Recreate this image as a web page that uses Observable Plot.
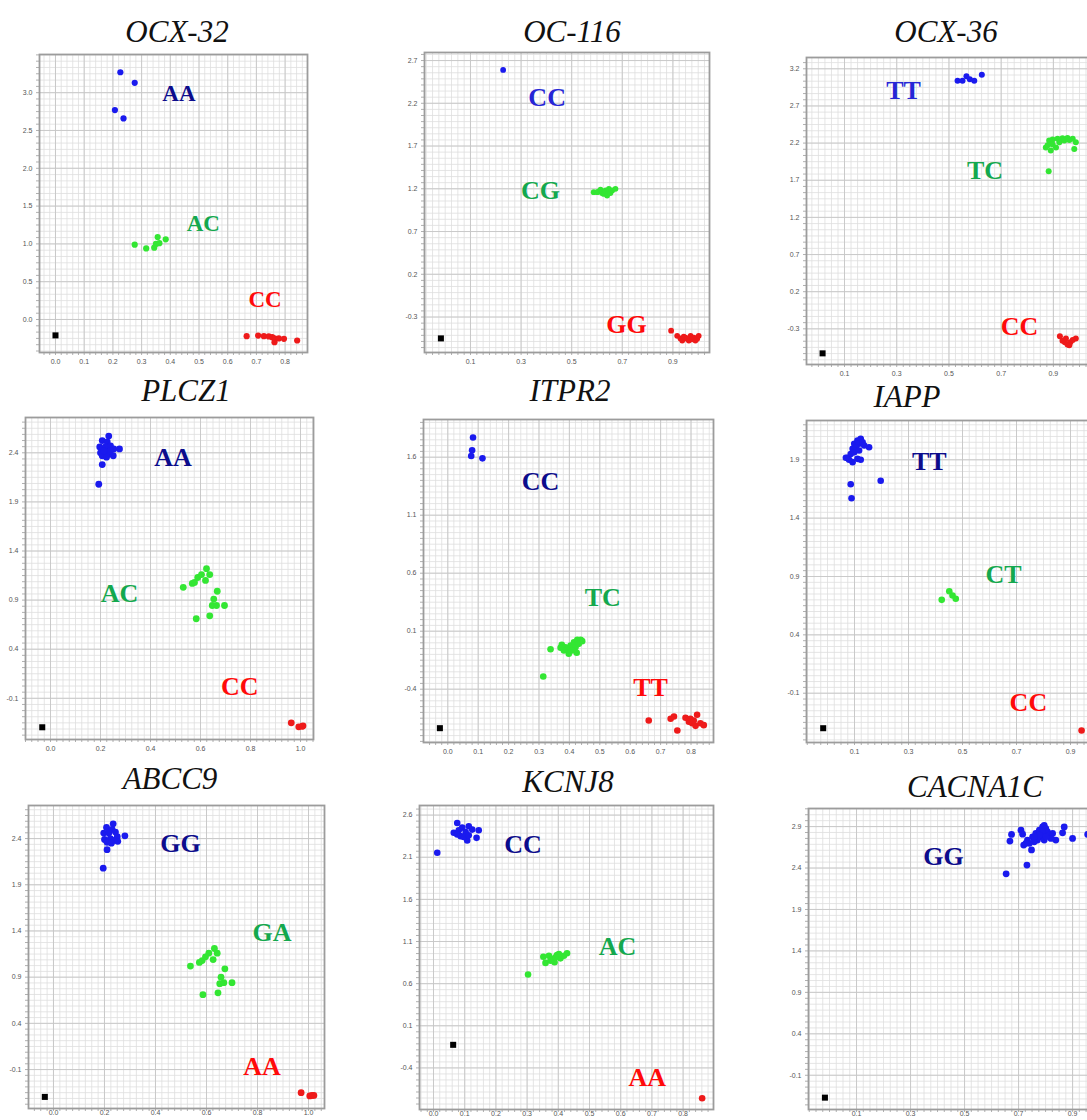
<!DOCTYPE html>
<html><head><meta charset="utf-8">
<script src="https://cdn.jsdelivr.net/npm/d3@7"></script>
<script src="https://cdn.jsdelivr.net/npm/@observablehq/plot@0.6"></script>
<style>
html,body{margin:0;padding:0;background:#fff;}
body{width:1087px;height:1120px;overflow:hidden;position:relative;}
.panel{position:absolute;}
.panel svg{max-width:none !important;}
#titles{position:absolute;left:0;top:0;pointer-events:none;}
</style></head><body>
<svg id="titles" width="1087" height="1120"></svg>
<script>
// ---------- DATA ----------
const titles = ["OCX-32","OC-116","OCX-36","PLCZ1","ITPR2","IAPP","ABCC9","KCNJ8","CACNA1C"];
const genotypes = [["AA","AC","CC"],["CC","CG","GG"],["TT","TC","CC"],["AA","AC","CC"],["CC","TC","TT"],["TT","CT","CC"],["GG","GA","AA"],["CC","AC","AA"],["GG"]];

// OCX-32
const OCX32_xTicks = [0,0.1,0.2,0.3,0.4,0.5,0.6,0.7,0.8];
const OCX32_yTicks = [0,0.5,1.0,1.5,2.0,2.5,3.0];
const OCX32_g1 = [[0.226,3.27],[0.276,3.13],[0.207,2.77],[0.237,2.66]];
const OCX32_g2 = [[0.276,0.99],[0.316,0.94],[0.344,0.95],[0.35,1.0],[0.356,1.09],[0.362,1.01],[0.384,1.06]];
const OCX32_g3 = [[0.666,-0.22],[0.706,-0.212],[0.726,-0.22],[0.743,-0.224],[0.755,-0.234],[0.763,-0.25],[0.763,-0.30],[0.778,-0.25],[0.796,-0.256],[0.842,-0.278]];
const OCX32_ntc = [[0.0,-0.21]];

// OC-116
const OC116_xTicks = [0.1,0.3,0.5,0.7,0.9];
const OC116_yTicks = [-0.3,0.2,0.7,1.2,1.7,2.2,2.7];
const OC116_g1 = [[0.229,2.59]];
const OC116_g2 = [[0.587,1.16],[0.601,1.16],[0.607,1.17],[0.614,1.19],[0.620,1.15],[0.627,1.14],[0.63,1.16],[0.634,1.18],[0.640,1.12],[0.645,1.17],[0.647,1.20],[0.653,1.15],[0.660,1.18],[0.673,1.20]];
const OC116_g3 = [[0.893,-0.46],[0.917,-0.52],[0.930,-0.55],[0.937,-0.575],[0.943,-0.53],[0.95,-0.54],[0.956,-0.555],[0.963,-0.575],[0.970,-0.52],[0.975,-0.56],[0.983,-0.54],[0.989,-0.575],[0.996,-0.555],[1.002,-0.52]];
const OC116_ntc = [[-0.017,-0.55]];

// OCX-36
const OCX36_xTicks = [0.1,0.3,0.5,0.7,0.9];
const OCX36_yTicks = [-0.3,0.2,0.7,1.2,1.7,2.2,2.7,3.2];
const OCX36_g1 = [[0.533,3.04],[0.552,3.04],[0.567,3.10],[0.580,3.06],[0.597,3.04],[0.626,3.12]];
const OCX36_g2 = [[0.871,2.14],[0.890,2.10],[0.910,2.14],[0.884,2.235],[0.897,2.25],[0.916,2.26],[0.935,2.266],[0.954,2.27],[0.974,2.26],[0.986,2.21],[0.980,2.12],[0.923,2.21],[0.942,2.235],[0.961,2.24],[0.897,2.18],[0.878,2.17],[0.882,1.82]];
const OCX36_g3 = [[0.925,-0.40],[0.935,-0.46],[0.944,-0.48],[0.954,-0.51],[0.965,-0.48],[0.974,-0.45],[0.986,-0.43],[0.948,-0.43],[0.961,-0.52]];
const OCX36_ntc = [[0.016,-0.63]];

// PLCZ1
const PLCZ1_xTicks = [0,0.2,0.4,0.6,0.8,1.0];
const PLCZ1_yTicks = [-0.1,0.4,0.9,1.4,1.9,2.4];
const PLCZ1_g1 = [[0.233,2.57],[0.207,2.525],[0.227,2.51],[0.197,2.46],[0.22,2.46],[0.24,2.47],[0.253,2.44],[0.276,2.44],[0.2,2.40],[0.22,2.41],[0.233,2.39],[0.251,2.37],[0.207,2.37],[0.224,2.355],[0.207,2.28],[0.193,2.08],[0.213,2.42],[0.24,2.42]];
const PLCZ1_g2 = [[0.531,1.03],[0.567,1.07],[0.576,1.08],[0.589,1.13],[0.604,1.16],[0.624,1.22],[0.637,1.16],[0.62,1.10],[0.667,0.99],[0.653,0.91],[0.647,0.845],[0.664,0.845],[0.696,0.845],[0.637,0.74],[0.583,0.71]];
const PLCZ1_g3 = [[0.963,-0.35],[0.993,-0.39],[1.007,-0.385],[1.01,-0.38]];
const PLCZ1_ntc = [[-0.033,-0.395]];

// ITPR2
const ITPR2_xTicks = [0,0.1,0.2,0.3,0.4,0.5,0.6,0.7,0.8];
const ITPR2_yTicks = [-0.4,0.1,0.6,1.1,1.6];
const ITPR2_g1 = [[0.083,1.77],[0.080,1.66],[0.077,1.61],[0.114,1.59]];
const ITPR2_g2 = [[0.338,-0.055],[0.314,-0.29],[0.375,-0.017],[0.387,-0.038],[0.398,-0.052],[0.404,-0.023],[0.415,0.005],[0.426,0.026],[0.437,0.026],[0.442,0.014],[0.420,-0.038],[0.398,-0.095],[0.424,-0.086],[0.409,-0.067],[0.382,-0.067],[0.371,-0.043],[0.431,-0.009]];
const ITPR2_g3 = [[0.661,-0.67],[0.733,-0.655],[0.744,-0.635],[0.755,-0.756],[0.782,-0.646],[0.798,-0.655],[0.820,-0.62],[0.804,-0.694],[0.815,-0.716],[0.831,-0.694],[0.842,-0.71],[0.793,-0.68],[0.809,-0.67]];
const ITPR2_ntc = [[-0.026,-0.736]];

// IAPP
const IAPP_xTicks = [0.1,0.3,0.5,0.7,0.9];
const IAPP_yTicks = [-0.1,0.4,0.9,1.4,1.9];
const IAPP_g1 = [[0.074,1.917],[0.086,1.95],[0.093,1.994],[0.099,2.037],[0.111,2.065],[0.123,2.08],[0.117,2.037],[0.130,2.05],[0.105,2.008],[0.136,2.023],[0.154,2.008],[0.093,1.88],[0.111,1.908],[0.123,1.90],[0.080,1.90],[0.099,1.965],[0.117,1.98],[0.068,1.917],[0.197,1.72],[0.086,1.69],[0.089,1.57]];
const IAPP_g2 = [[0.423,0.70],[0.451,0.774],[0.463,0.737],[0.475,0.709]];
const IAPP_g3 = [[0.941,-0.42]];
const IAPP_ntc = [[-0.016,-0.40]];

// ABCC9
const ABCC9_xTicks = [0,0.2,0.4,0.6,0.8,1.0];
const ABCC9_yTicks = [-0.1,0.4,0.9,1.4,1.9,2.4];
const ABCC9_g1 = [[0.234,2.56],[0.208,2.52],[0.23,2.50],[0.197,2.46],[0.217,2.46],[0.243,2.47],[0.25,2.42],[0.28,2.43],[0.2,2.39],[0.223,2.40],[0.237,2.38],[0.252,2.37],[0.21,2.36],[0.227,2.35],[0.21,2.28],[0.195,2.08]];
const ABCC9_g2 = [[0.537,1.02],[0.572,1.06],[0.583,1.08],[0.596,1.12],[0.609,1.16],[0.631,1.21],[0.642,1.16],[0.626,1.09],[0.672,0.99],[0.657,0.90],[0.652,0.83],[0.668,0.84],[0.7,0.84],[0.645,0.73],[0.586,0.71]];
const ABCC9_g3 = [[0.971,-0.35],[1.005,-0.385],[1.014,-0.38],[1.021,-0.38]];
const ABCC9_ntc = [[-0.034,-0.396]];

// KCNJ8
const KCNJ8_xTicks = [0,0.1,0.2,0.3,0.4,0.5,0.6,0.7,0.8];
const KCNJ8_yTicks = [-0.4,0.1,0.6,1.1,1.6,2.1,2.6];
const KCNJ8_g1 = [[0.012,2.153],[0.076,2.506],[0.065,2.39],[0.081,2.42],[0.092,2.452],[0.103,2.40],[0.113,2.467],[0.124,2.428],[0.145,2.42],[0.138,2.33],[0.087,2.35],[0.108,2.30],[0.097,2.34],[0.076,2.37],[0.113,2.36]];
const KCNJ8_g2 = [[0.303,0.708],[0.352,0.92],[0.359,0.846],[0.370,0.931],[0.380,0.893],[0.388,0.854],[0.396,0.94],[0.407,0.90],[0.418,0.931],[0.428,0.96],[0.375,0.873],[0.402,0.951],[0.391,0.912]];
const KCNJ8_g3 = [[0.861,-0.76]];
const KCNJ8_ntc = [[0.063,-0.126]];

// CACNA1C
const CACNA1C_xTicks = [0.1,0.3,0.5,0.7,0.9];
const CACNA1C_yTicks = [-0.1,0.4,0.9,1.4,1.9,2.4,2.9];
const CACNA1C_g1 = [[0.654,2.33],[0.731,2.436],[0.668,2.725],[0.674,2.805],[0.709,2.856],[0.715,2.808],[0.719,2.677],[0.733,2.737],[0.748,2.618],[0.752,2.776],[0.764,2.817],[0.777,2.856],[0.789,2.895],[0.795,2.915],[0.801,2.876],[0.807,2.836],[0.783,2.776],[0.770,2.737],[0.758,2.717],[0.814,2.796],[0.826,2.817],[0.838,2.737],[0.863,2.824],[0.869,2.895],[0.900,2.757],[0.956,2.805],[0.740,2.698],[0.795,2.737],[0.820,2.757],[0.789,2.836],[0.801,2.776],[0.777,2.796],[0.758,2.776],[0.727,2.698]];
const CACNA1C_ntc = [[-0.017,-0.37]];

// ---------- LAYOUT / STYLE ----------
const NAVY = "#0c0c8c", BRIGHT = "#2626d6", LGREEN = "#14a84e", LRED = "#ff0a0a";
const DOT = ["#1a1aee", "#33e633", "#ee1a1a"];
const panels = [
  {frame:[39,54,307,352], xdom:[-0.0557,0.878], ydom:[-0.4365,3.505], gx:0.02, gy:0.5/6, xt:OCX32_xTicks, yt:OCX32_yTicks, groups:[OCX32_g1,OCX32_g2,OCX32_g3], ntc:OCX32_ntc,
   lab:[[0.43,2.99],[0.515,1.27],[0.73,0.26]], labColor:[NAVY,LGREEN,LRED], labSize:23, title:[177,42], r:3.1, pad:7},
  {frame:[424,52,709,352], xdom:[-0.0818,1.0447], ydom:[-0.715,2.794], gx:0.025, gy:0.5/7, xt:OC116_xTicks, yt:OC116_yTicks, groups:[OC116_g1,OC116_g2,OC116_g3], ntc:OC116_ntc,
   lab:[[0.403,2.27],[0.377,1.18],[0.717,-0.39]], labColor:[BRIGHT,LGREEN,LRED], labSize:26, title:[572,42], r:2.9, pad:7},
  {frame:[806,57,1097,364], xdom:[-0.0456,1.069], ydom:[-0.780,3.352], gx:0.025, gy:0.5/6, xt:OCX36_xTicks, yt:OCX36_yTicks, groups:[OCX36_g1,OCX36_g2,OCX36_g3], ntc:OCX36_ntc,
   lab:[[0.326,2.91],[0.638,1.83],[0.77,-0.27]], labColor:[BRIGHT,LGREEN,LRED], labSize:26, title:[946,42], r:3, pad:7},
  {frame:[25,417,313,739], xdom:[-0.1,1.052], ydom:[-0.5195,2.7595], gx:0.025, gy:0.0625, xt:PLCZ1_xTicks, yt:PLCZ1_yTicks, groups:[PLCZ1_g1,PLCZ1_g2,PLCZ1_g3], ntc:PLCZ1_ntc,
   lab:[[0.49,2.35],[0.276,0.97],[0.757,0.02]], labColor:[NAVY,LGREEN,LRED], labSize:26, title:[186,401], r:3.4, pad:7},
  {frame:[423,419,713,742], xdom:[-0.0799,0.874], ydom:[-0.8595,1.925], gx:0.02, gy:0.05, xt:ITPR2_xTicks, yt:ITPR2_yTicks, groups:[ITPR2_g1,ITPR2_g2,ITPR2_g3], ntc:ITPR2_ntc,
   lab:[[0.305,1.385],[0.51,0.388],[0.667,-0.39]], labColor:[NAVY,LGREEN,LRED], labSize:26, title:[570,401], r:3.3, pad:7},
  {frame:[806,420,1097,742], xdom:[-0.0778,1.0], ydom:[-0.5224,2.2368], gx:0.025, gy:0.05, xt:IAPP_xTicks, yt:IAPP_yTicks, groups:[IAPP_g1,IAPP_g2,IAPP_g3], ntc:IAPP_ntc,
   lab:[[0.377,1.885],[0.652,0.917],[0.744,-0.177]], labColor:[NAVY,LGREEN,LRED], labSize:26, title:[907,407], r:3.3, pad:7},
  {frame:[28,805,324,1108], xdom:[-0.098,1.0627], ydom:[-0.5215,2.758], gx:0.025, gy:0.0625, xt:ABCC9_xTicks, yt:ABCC9_yTicks, groups:[ABCC9_g1,ABCC9_g2,ABCC9_g3], ntc:ABCC9_ntc,
   lab:[[0.498,2.34],[0.857,1.38],[0.818,-0.07]], labColor:[NAVY,LGREEN,LRED], labSize:26, title:[170,789], r:3.4, pad:2},
  {frame:[419,805,713,1109], xdom:[-0.0449,0.8974], ydom:[-0.8935,2.714], gx:0.02, gy:0.5/7, xt:KCNJ8_xTicks, yt:KCNJ8_yTicks, groups:[KCNJ8_g1,KCNJ8_g2,KCNJ8_g3], ntc:KCNJ8_ntc,
   lab:[[0.287,2.245],[0.59,1.037],[0.685,-0.518]], labColor:[NAVY,LGREEN,LRED], labSize:26, title:[568,792], r:3.3, pad:2},
  {frame:[808,808,1098,1109], xdom:[-0.0778,0.996], ydom:[-0.513,3.118], gx:0.025, gy:0.5/7, xt:CACNA1C_xTicks, yt:CACNA1C_yTicks, groups:[CACNA1C_g1], ntc:CACNA1C_ntc,
   lab:[[0.422,2.54]], labColor:[NAVY], labSize:26, title:[975,797], r:3.4, pad:2}
];

function gridVals(t0, step, dom) {
  const n0 = Math.ceil((dom[0] - t0) / step - 1e-9), n1 = Math.floor((dom[1] - t0) / step + 1e-9);
  return d3.range(n0, n1 + 1).map(i => +(t0 + i * step).toFixed(5));
}

const mL = 32, mR = 4, mT = 4, mB = 24;
panels.forEach((p, i) => {
  const [L, T, R, B] = p.frame;
  const w = R - L + mL + mR, h = B - T + mT + mB;
  const gxv = gridVals(p.xt[0], p.gx, p.xdom), gyv = gridVals(p.yt[0], p.gy, p.ydom);
  const xtIn = p.xt.filter(v => v >= p.xdom[0] && v <= p.xdom[1]);
  const ytIn = p.yt.filter(v => v >= p.ydom[0] && v <= p.ydom[1]);
  const labels = genotypes[i].map((g, k) => ({g, x: p.lab[k][0], y: p.lab[k][1], c: p.labColor[k]}));
  const fmt = d => d.toFixed(1);
  const marks = [
    Plot.gridX(gxv, {stroke: "#dedede", strokeOpacity: 1, strokeWidth: 0.8}),
    Plot.gridY(gyv, {stroke: "#dedede", strokeOpacity: 1, strokeWidth: 0.8}),
    Plot.gridX(xtIn, {stroke: "#c6c6c6", strokeOpacity: 1, strokeWidth: 0.9}),
    Plot.gridY(ytIn, {stroke: "#c6c6c6", strokeOpacity: 1, strokeWidth: 0.9}),
    Plot.axisX(gxv, {tickSize: 3, stroke: "#b0b0b0", tickFormat: () => "", label: null}),
    Plot.axisY(gyv, {tickSize: 3, stroke: "#b0b0b0", tickFormat: () => "", label: null}),
    Plot.axisX(xtIn, {tickSize: 0, tickPadding: p.pad, tickFormat: fmt, fontSize: 7, fill: "#555", label: null}),
    Plot.axisY(ytIn, {tickSize: 0, tickPadding: 7, tickFormat: fmt, fontSize: 7, fill: "#555", label: null}),
    Plot.frame({stroke: "#9c9c9c", strokeWidth: 1.8}),
    Plot.dot(p.ntc, {x: d => d[0], y: d => d[1], symbol: "square", r: 3.4, fill: "#000"}),
    ...p.groups.map((g, k) => Plot.dot(g, {x: d => d[0], y: d => d[1], r: p.r, fill: DOT[k]})),
    Plot.text(labels, {x: "x", y: "y", text: "g", fill: "c", fontSize: p.labSize, fontWeight: "bold",
      fontFamily: "'Liberation Serif','Times New Roman',serif", textAnchor: "middle", lineAnchor: "middle"})
  ];
  const svg = Plot.plot({
    width: w, height: h, marginLeft: mL, marginRight: mR, marginTop: mT, marginBottom: mB,
    x: {domain: p.xdom}, y: {domain: p.ydom},
    style: {background: "transparent", overflow: "visible", fontFamily: "'Liberation Sans',Arial,sans-serif", maxWidth: "none"},
    marks
  });
  svg.style.maxWidth = "none";
  svg.style.width = w + "px";
  svg.style.height = h + "px";
  const div = document.createElement("div");
  div.className = "panel";
  div.style.left = (L - mL) + "px";
  div.style.top = (T - mT) + "px";
  div.style.width = w + "px";
  div.style.height = h + "px";
  div.appendChild(svg);
  document.body.appendChild(div);
});

// titles
const tsvg = d3.select("#titles");
panels.forEach((p, i) => {
  tsvg.append("text").attr("x", p.title[0]).attr("y", p.title[1])
    .attr("text-anchor", "middle")
    .attr("font-family", "'Liberation Serif','Times New Roman',serif")
    .attr("font-style", "italic").attr("font-size", 31).attr("fill", "#111")
    .text(titles[i]);
});
document.body.appendChild(document.getElementById("titles"));
</script></body></html>
